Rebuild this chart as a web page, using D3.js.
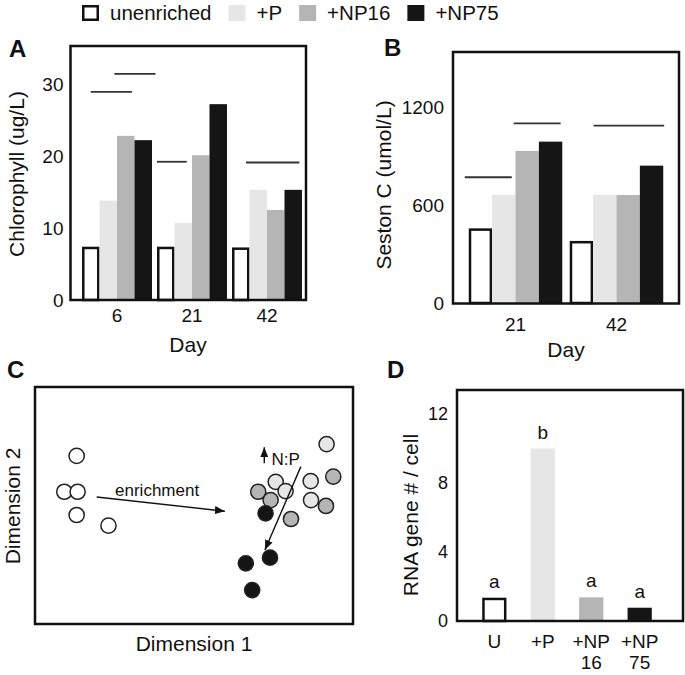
<!DOCTYPE html>
<html>
<head>
<meta charset="utf-8">
<script src="https://cdn.jsdelivr.net/npm/d3@7"></script>
<style>
body { margin: 0; background: #fff; }
text { font-family: "Liberation Sans", Arial, sans-serif; }
</style>
</head>
<body>
<div id="chart"></div>
<script>
// treatments (legend order) and their fills
var treatments = ["unenriched", "+P", "+NP16", "+NP75"];
var fills = ["#ffffff", "#e6e6e6", "#b5b5b5", "#151515"];

// A: chlorophyll (ug/L) per day, one value per treatment
var chlDays = ["6", "21", "42"];
var chlValues = [
  [7.4, 13.8, 22.8, 22.2],
  [7.4, 10.7, 20.1, 27.2],
  [7.3, 15.3, 12.5, 15.3]
];
var chlTicks = [0, 10, 20, 30];
// lines over bars that do not differ: [day, from slot, to slot, level]
var chlGroups = [
  ["6", 0.5, 2.85, 28.9],
  ["6", 1.85, 4.2, 31.4],
  ["21", 0.0, 1.7, 19.2],
  ["42", 0.8, 3.85, 19.1]
];

// B: seston C (umol/L)
var sestonDays = ["21", "42"];
var sestonValues = [
  [457, 661, 931, 988],
  [380, 661, 661, 841]
];
var sestonTicks = [0, 600, 1200];
var sestonGroups = [
  ["21", -0.17, 1.84, 770],
  ["21", 1.92, 3.93, 1100],
  ["42", 1.02, 4.04, 1086]
];

// C: ordination scores (dimension 1, dimension 2), one list per treatment
var ordU = [[13.1, 70.9], [9.2, 55.8], [13.4, 55.8], [13.1, 46.0], [23.1, 41.5]];
var ordP = [[91.7, 75.9], [75.7, 60.0], [86.7, 60.3], [86.8, 52.3], [78.8, 56.1]];
var ordNP16 = [[93.8, 62.2], [70.2, 55.8], [74.1, 52.3], [80.5, 44.3], [91.5, 49.8]];
var ordNP75 = [[72.5, 46.7], [73.9, 28.0], [66.3, 25.6], [68.3, 14.3]];

// D: RNA gene copies per cell
var rnaLabels = ["U", "+P", "+NP 16", "+NP 75"];
var rnaValues = [1.35, 10.0, 1.37, 0.77];
var rnaLetters = ["a", "b", "a", "a"];
var rnaTicks = [0, 4, 8, 12];

var svgWidth = 685;
var svgHeight = 675;
var ink = "#111";

var svg = d3.select("#chart")
  .append("svg")
  .attr("width", svgWidth)
  .attr("height", svgHeight);

// ---------- helpers ----------
function frame(x0, y0, x1, y1) {
  svg.append("rect")
    .attr("x", x0).attr("y", y0)
    .attr("width", x1 - x0).attr("height", y1 - y0)
    .attr("fill", "none")
    .attr("stroke", ink)
    .attr("stroke-width", 2.5);
}

function panelLetter(t, x, y) {
  svg.append("text")
    .attr("x", x).attr("y", y)
    .attr("font-size", 24)
    .attr("font-weight", "bold")
    .attr("fill", ink)
    .text(t);
}

function title(t, x, y, rotate) {
  var el = svg.append("text")
    .attr("text-anchor", "middle")
    .attr("font-size", 21)
    .attr("fill", ink)
    .text(t);
  if (rotate) {
    el.attr("transform", `translate(${x},${y}) rotate(-90)`).attr("dy", "0.35em");
  } else {
    el.attr("x", x).attr("y", y);
  }
}

function leftAxis(scale, ticks, x, pad, size) {
  svg.append("g")
    .attr("transform", `translate(${x},0)`)
    .call(d3.axisLeft(scale).tickValues(ticks).tickFormat(d3.format("d")).tickSize(0).tickPadding(pad))
    .call(g => g.select(".domain").remove())
    .attr("font-size", size)
    .attr("font-family", "Liberation Sans, Arial, sans-serif")
    .attr("color", ink);
}

function bottomAxis(scale, y, pad) {
  return svg.append("g")
    .attr("transform", `translate(0,${y})`)
    .call(d3.axisBottom(scale).tickSize(0).tickPadding(pad))
    .call(g => g.select(".domain").remove())
    .attr("font-size", 19)
    .attr("font-family", "Liberation Sans, Arial, sans-serif")
    .attr("color", ink);
}

function bar(x, w, yTop, yBase, i) {
  var sw = i === 0 ? 2.5 : 0;
  svg.append("rect")
    .attr("x", x + sw / 2)
    .attr("y", yTop + sw / 2)
    .attr("width", w - sw)
    .attr("height", Math.max(0, yBase - yTop - sw / 2))
    .attr("fill", fills[i])
    .attr("stroke", i === 0 ? ink : "none")
    .attr("stroke-width", sw);
}

function groupedBars(days, values, groups, x0, y) {
  var x1 = d3.scaleBand().domain(d3.range(treatments.length)).range([0, x0.bandwidth()]);
  days.forEach(function(day, gi) {
    values[gi].forEach(function(v, i) {
      bar(x0(day) + x1(i), x1.bandwidth(), y(v), y(0), i);
    });
  });
  groups.forEach(function(s) {
    svg.append("line")
      .attr("x1", x0(s[0]) + s[1] * x1.step())
      .attr("x2", x0(s[0]) + s[2] * x1.step())
      .attr("y1", y(s[3])).attr("y2", y(s[3]))
      .attr("stroke", "#333")
      .attr("stroke-width", 1.8);
  });
}

// ---------- legend ----------
var legend = svg.append("g").attr("transform", "translate(82,5)");
var lx = 0;
treatments.forEach(function(t, i) {
  var sw = i === 0 ? 2.5 : 0;
  legend.append("rect")
    .attr("x", lx + sw / 2).attr("y", sw / 2)
    .attr("width", 17 - sw).attr("height", 16 - sw)
    .attr("fill", fills[i])
    .attr("stroke", i === 0 ? ink : "none")
    .attr("stroke-width", sw);
  var txt = legend.append("text")
    .attr("x", lx + 28).attr("y", 14.5)
    .attr("font-size", 20.5)
    .attr("fill", ink)
    .text(t);
  lx += 28 + txt.node().getComputedTextLength() + 17;
});

// ---------- A ----------
var xA = d3.scaleBand().domain(chlDays).range([77, 307]).paddingInner(0.067).paddingOuter(0.067);
var yA = d3.scaleLinear().domain([0, 30]).range([300, 84]);
groupedBars(chlDays, chlValues, chlGroups, xA, yA);
frame(70.5, 46, 306, 300);
leftAxis(yA, chlTicks, 70.5, 7, 19);
bottomAxis(xA, 300, 9);
panelLetter("A", 9, 57);
title("Chlorophyll (ug/L)", 17, 174, true);
title("Day", 188, 352);

// ---------- B ----------
var xB = d3.scaleBand().domain(sestonDays).range([453, 679]).paddingInner(0.074).paddingOuter(0.156);
var yB = d3.scaleLinear().domain([0, 1200]).range([303, 107]);
groupedBars(sestonDays, sestonValues, sestonGroups, xB, yB);
frame(453, 52, 679, 303.5);
leftAxis(yB, sestonTicks, 453, 9, 19);
bottomAxis(xB, 303.5, 14);
panelLetter("B", 384, 56);
title("Seston C (umol/L)", 384, 185, true);
title("Day", 566, 357);

// ---------- C ----------
var xC = d3.scaleLinear().domain([0, 100]).range([35, 353]);
var yC = d3.scaleLinear().domain([0, 100]).range([624, 387]);

var defs = svg.append("defs");
defs.append("marker")
  .attr("id", "head")
  .attr("markerUnits", "userSpaceOnUse")
  .attr("viewBox", "0 0 10 8")
  .attr("refX", 10).attr("refY", 4)
  .attr("markerWidth", 10).attr("markerHeight", 8)
  .attr("orient", "auto")
  .append("path")
  .attr("d", "M0,0 L10,4 L0,8 Z")
  .attr("fill", ink);

[ordU, ordP, ordNP16, ordNP75].forEach(function(pts, i) {
  svg.selectAll(null)
    .data(pts)
    .enter()
    .append("circle")
    .attr("cx", d => xC(d[0]))
    .attr("cy", d => yC(d[1]))
    .attr("r", 7.6)
    .attr("fill", fills[i])
    .attr("stroke", "#222")
    .attr("stroke-width", 1.5);
});

// enrichment arrow
svg.append("line")
  .attr("x1", xC(19.4)).attr("y1", yC(53.6))
  .attr("x2", xC(59.7)).attr("y2", yC(47.6))
  .attr("stroke", ink).attr("stroke-width", 1.4)
  .attr("marker-end", "url(#head)");
svg.append("text")
  .attr("x", xC(38.4)).attr("y", yC(56.5))
  .attr("dy", "0.35em")
  .attr("text-anchor", "middle")
  .attr("font-size", 17)
  .attr("fill", ink)
  .text("enrichment");

// N:P arrow
svg.append("line")
  .attr("x1", xC(83.6)).attr("y1", yC(66.4))
  .attr("x2", xC(72.3)).attr("y2", yC(31.2))
  .attr("stroke", ink).attr("stroke-width", 1.4)
  .attr("marker-end", "url(#head)");
svg.append("line")
  .attr("x1", xC(72.1)).attr("y1", yC(67.8))
  .attr("x2", xC(72.1)).attr("y2", yC(74.6))
  .attr("stroke", ink).attr("stroke-width", 1.4)
  .attr("marker-end", "url(#head)");
svg.append("text")
  .attr("x", xC(74.4)).attr("y", yC(69.6))
  .attr("dy", "0.35em")
  .attr("font-size", 17)
  .attr("fill", ink)
  .text("N:P");

frame(35, 387, 353, 624);
panelLetter("C", 7, 378);
title("Dimension 1", 194, 651);
title("Dimension 2", 12.5, 506, true);

// ---------- D ----------
var xD = d3.scaleBand().domain(rnaLabels).range([458, 676]).padding(0.5);
var yD = d3.scaleLinear().domain([0, 12]).range([621, 414]);
rnaLabels.forEach(function(c, i) {
  bar(xD(c), xD.bandwidth(), yD(rnaValues[i]), yD(0), i);
  svg.append("text")
    .attr("x", xD(c) + xD.bandwidth() / 2)
    .attr("y", yD(rnaValues[i]) - 10)
    .attr("text-anchor", "middle")
    .attr("font-size", 19)
    .attr("fill", ink)
    .text(rnaLetters[i]);
});
frame(457, 390, 683, 621);
leftAxis(yD, rnaTicks, 457, 9, 18);
var axD = bottomAxis(xD, 621, 14);
axD.selectAll(".tick text").each(function(d) {
  var parts = d.split(" ");
  var el = d3.select(this).text(null);
  parts.forEach(function(p, k) {
    el.append("tspan")
      .attr("x", 0)
      .attr("dy", k === 0 ? "0.71em" : "1.1em")
      .text(p);
  });
}).attr("dy", null);
panelLetter("D", 387, 378);
title("RNA gene # / cell", 411, 515, true);
</script>
</body>
</html>
